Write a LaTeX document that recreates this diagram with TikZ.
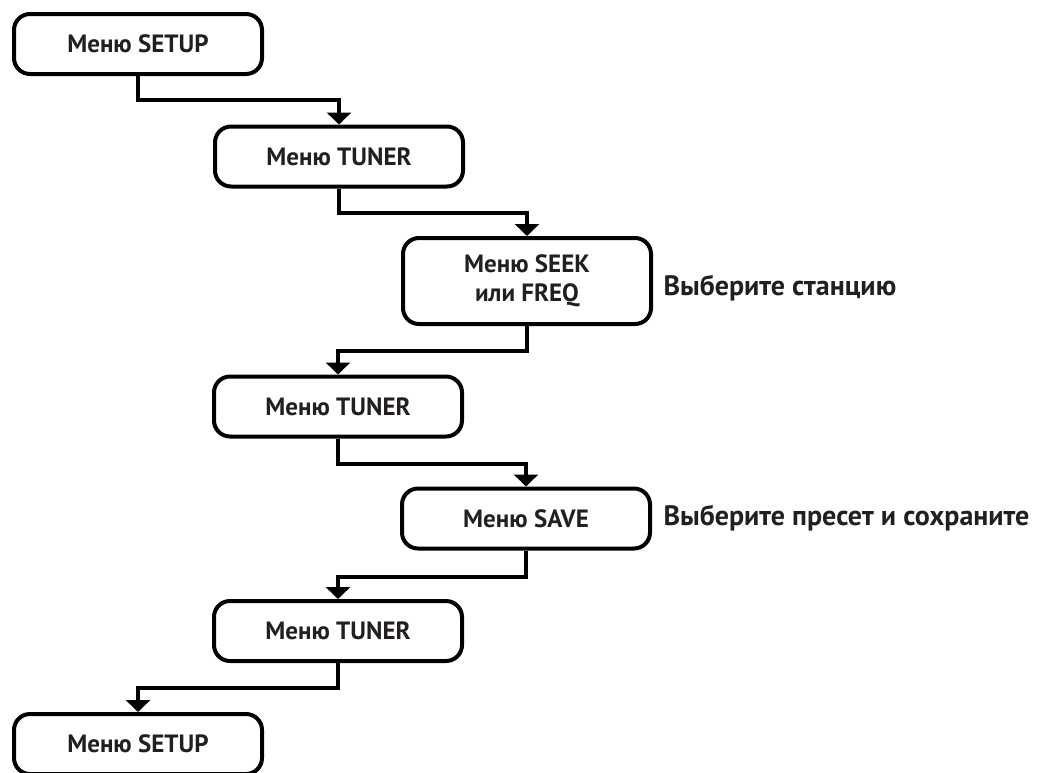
\documentclass[tikz,border=0pt]{standalone}
\usepackage{fontspec}
\setmainfont{PT Sans}
\usetikzlibrary{arrows.meta}
\definecolor{inkblack}{HTML}{231F20}
\tikzset{>={Triangle[width=24pt,length=12pt]}}
\tikzset{%
    menubox/.style={%
        draw=black, line width=4pt, rounded corners=16pt,
        minimum width=248pt, minimum height=60pt, align=center,
        font=\fontsize{25}{29}\selectfont\bfseries, text=inkblack},
    flow/.style={->, line width=4pt},
    hint/.style={anchor=west, font=\fontsize{28}{30}\selectfont\bfseries, text=inkblack}
}

\begin{document}
\begin{tikzpicture}[x=1pt,y=-1pt]
	\clip (0,0) rectangle (1047,772);

	\node[menubox] (setupA) at (138,44) {Меню SETUP};
	\node[menubox] (tunerA) at (339,156.5) {Меню TUNER};
	\node[menubox, minimum height=86pt] (seek) at (527,281) {Меню SEEK\\или FREQ};
	\node[menubox] (tunerB) at (338,406.5) {Меню TUNER};
	\node[menubox] (save) at (526,518.5) {Меню SAVE};
	\node[menubox] (tunerC) at (338,631) {Меню TUNER};
	\node[menubox] (setupB) at (138,744) {Меню SETUP};

	\node[hint] (station) at (660,288) {Выберите станцию};
	\node[hint] (preset) at (660,518.5) {Выберите пресет и сохраните};

	\draw[flow] (setupA.south) -- ++(0,24) -| (tunerA.north);
	\draw[flow] (tunerA.south) -- ++(0,24) -| (seek.north);
	\draw[flow] (seek.south) -- ++(0,25) -| (tunerB.north);
	\draw[flow] (tunerB.south) -- ++(0,25) -| (save.north);
	\draw[flow] (save.south) -- ++(0,26) -| (tunerC.north);
	\draw[flow] (tunerC.south) -- ++(0,25) -| (setupB.north);
\end{tikzpicture}
\end{document}
